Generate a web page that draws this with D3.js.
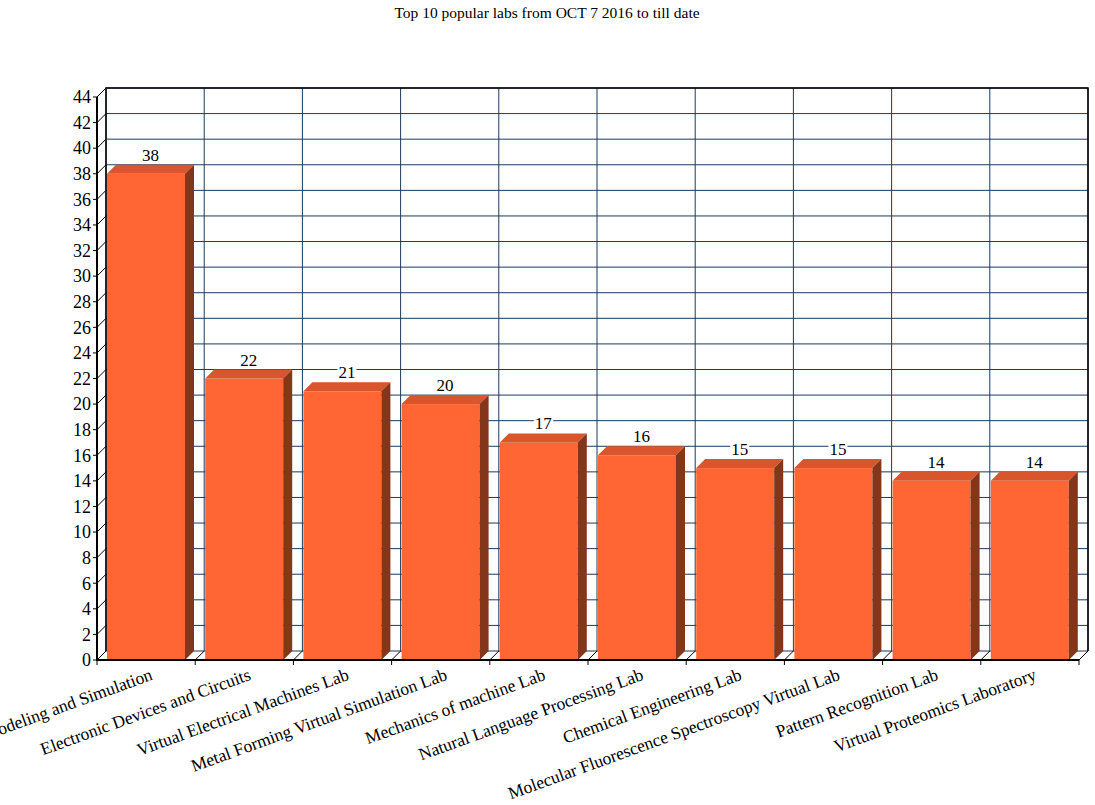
<!DOCTYPE html>
<html><head><meta charset="utf-8">
<script src="https://d3js.org/d3.v7.min.js"></script>
<style>body{margin:0;background:#fff}svg{display:block}</style>
</head><body>
<svg id="c" width="1095" height="805"></svg>
<script>
const categories = ["Modeling and Simulation","Electronic Devices and Circuits","Virtual Electrical Machines Lab","Metal Forming Virtual Simulation Lab","Mechanics of machine Lab","Natural Language Processing Lab","Chemical Engineering Lab","Molecular Fluorescence Spectroscopy Virtual Lab","Pattern Recognition Lab","Virtual Proteomics Laboratory"];
const values = [38,22,21,20,17,16,15,15,14,14];
const yTicks = d3.range(0,45,2);
const title = "Top 10 popular labs from OCT 7 2016 to till date";

const FONT = "'Liberation Serif', Tinos, 'Times New Roman', 'DejaVu Serif', serif";
const svg = d3.select("#c").attr("font-family", FONT);
const D = 9; // depth offset
const x = d3.scaleBand().domain(categories).range([97,1079]).paddingInner(0).paddingOuter(0);
const y = d3.scaleLinear().domain([0,44]).range([660,97]);
const x0 = 97, x1 = 1079, y0 = y(0), yTop = y(44);
const grid = "#1b3a5a";

svg.append("text").attr("x",547).attr("y",18).attr("text-anchor","middle").attr("font-size",15.5).text(title);

// back wall
svg.append("rect").attr("x",x0+D).attr("y",yTop-D).attr("width",x1-x0).attr("height",y0-yTop).attr("fill","#fff");
svg.append("g").selectAll("line").data(yTicks).join("line")
  .attr("x1",x0+D).attr("x2",x1+D).attr("y1",d=>y(d)-D).attr("y2",d=>y(d)-D)
  .attr("stroke",grid).attr("stroke-width",1);
const bounds = categories.map(c=>x(c)).concat([x1]);
svg.append("g").selectAll("line").data(bounds).join("line")
  .attr("x1",d=>d+D).attr("x2",d=>d+D).attr("y1",yTop-D).attr("y2",y0-D)
  .attr("stroke",grid).attr("stroke-width",1);
svg.append("path").attr("d",`M${x0+D},${y0-D}V${yTop-D}H${x1+D}V${y0-D}`).attr("fill","none").attr("stroke","#000").attr("stroke-width",1.5);
svg.append("g").selectAll("line").data(yTicks).join("line")
  .attr("x1",x0).attr("x2",x0+D).attr("y1",d=>y(d)).attr("y2",d=>y(d)-D)
  .attr("stroke","#000").attr("stroke-width",1);
svg.append("g").selectAll("line").data(bounds).join("line")
  .attr("x1",d=>d).attr("x2",d=>d+D).attr("y1",y0).attr("y2",y0-D)
  .attr("stroke","#000").attr("stroke-width",1);

// bars
const bw = 78, off = 10;
const bars = svg.append("g").selectAll("g").data(categories.map((c,i)=>({c,v:values[i]}))).join("g");
bars.append("rect").attr("x",d=>x(d.c)+off).attr("y",d=>y(d.v)).attr("width",bw).attr("height",d=>y0-y(d.v)).attr("fill","#ff6633");
bars.append("path").attr("fill","#d9552b").attr("d",d=>{const l=x(d.c)+off,t=y(d.v);return `M${l},${t}L${l+D},${t-D}H${l+bw+D}L${l+bw},${t}Z`;});
bars.append("path").attr("fill","#833619").attr("d",d=>{const l=x(d.c)+off+bw,t=y(d.v);return `M${l},${t}L${l+D},${t-D}V${y0-D}L${l},${y0}Z`;});

bars.each(function(d){
  const g=d3.select(this);
  const cx=x(d.c)+off+bw/2+D/2, by=y(d.v)-D-4;
  const t=g.append("text").attr("x",cx).attr("y",by).attr("text-anchor","middle").attr("font-size",17).text(d.v);
  const bb=t.node().getBBox();
  g.insert("rect","text").attr("x",bb.x-1).attr("y",bb.y+2).attr("width",bb.width+2).attr("height",bb.height-4).attr("fill","#fff");
});

// front axes
svg.append("line").attr("x1",x0).attr("x2",x0).attr("y1",yTop).attr("y2",y0+1).attr("stroke","#000").attr("stroke-width",2);
svg.append("line").attr("x1",x0-1).attr("x2",x1).attr("y1",y0).attr("y2",y0).attr("stroke","#000").attr("stroke-width",2);
svg.append("g").selectAll("line").data(yTicks).join("line")
  .attr("x1",x0-4).attr("x2",x0).attr("y1",d=>y(d)).attr("y2",d=>y(d)).attr("stroke","#000");
svg.append("g").selectAll("text").data(yTicks).join("text")
  .attr("x",x0-6).attr("y",d=>y(d)).attr("dy","0.35em").attr("text-anchor","end").attr("font-size",18).text(d=>d);
svg.append("g").selectAll("line").data(bounds).join("line")
  .attr("x1",d=>d).attr("x2",d=>d).attr("y1",y0).attr("y2",y0+5).attr("stroke","#000");
svg.append("g").selectAll("text").data(categories).join("text")
  .attr("transform",d=>`translate(${x(d)+x.bandwidth()/2+3},${y0+7}) rotate(-20)`)
  .attr("dy","0.75em").attr("text-anchor","end").attr("font-size",17.5).text(d=>d);
</script>
</body></html>
